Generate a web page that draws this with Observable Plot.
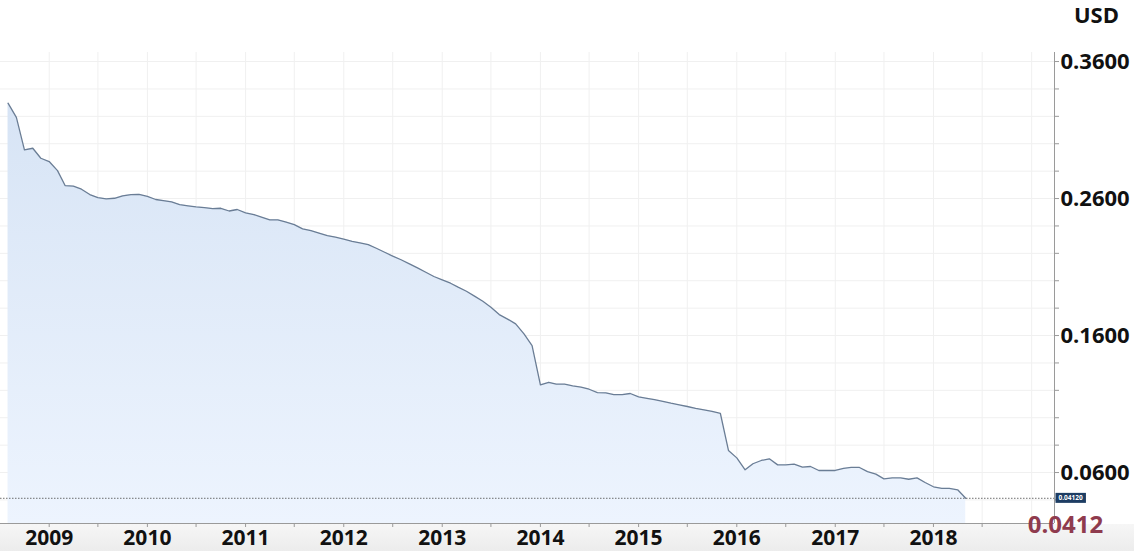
<!DOCTYPE html>
<html><head><meta charset="utf-8">
<script src="https://cdn.jsdelivr.net/npm/d3@7"></script>
<script src="https://cdn.jsdelivr.net/npm/@observablehq/plot@0.6"></script>
<style>
html,body{margin:0;padding:0;background:#fff;}
#chart svg{display:block;}
</style></head><body><div id="chart"></div>
<script>
// ---- data ----
const startMonth = "2008-08-01"; // first monthly observation
const prices = [
  0.3296,0.3193,0.2955,0.2967,0.2894,0.2870,0.2804,0.2695,0.2690,0.2668,
  0.2629,0.2607,0.2598,0.2602,0.2620,0.2629,0.2631,0.2615,0.2593,0.2585,
  0.2576,0.2556,0.2547,0.2539,0.2534,0.2527,0.2529,0.2509,0.2520,0.2496,
  0.2483,0.2465,0.2445,0.2445,0.2428,0.2410,0.2379,0.2366,0.2348,0.2330,
  0.2318,0.2303,0.2288,0.2277,0.2264,0.2237,0.2208,0.2180,0.2153,0.2123,
  0.2094,0.2062,0.2031,0.2007,0.1982,0.1953,0.1923,0.1888,0.1850,0.1807,
  0.1753,0.1720,0.1685,0.1612,0.1527,0.1240,0.1259,0.1245,0.1245,0.1233,
  0.1223,0.1208,0.1184,0.1182,0.1169,0.1169,0.1177,0.1153,0.1142,0.1133,
  0.1120,0.1106,0.1094,0.1082,0.1069,0.1058,0.1047,0.1031,0.0761,0.0707,
  0.0620,0.0664,0.0688,0.0700,0.0656,0.0656,0.0661,0.0639,0.0644,0.0615,
  0.0615,0.0615,0.0631,0.0637,0.0637,0.0607,0.0588,0.0554,0.0561,0.0561,
  0.0551,0.0561,0.0527,0.0496,0.0485,0.0485,0.0474,0.0412
];
const yLabelTicks = [0.06, 0.16, 0.26, 0.36];
const yMinorTicks = [0.04,0.06,0.08,0.10,0.12,0.14,0.16,0.18,0.20,0.22,0.24,0.26,0.28,0.30,0.32,0.34,0.36];
const yearLabels = ["2009","2010","2011","2012","2013","2014","2015","2016","2017","2018"];
const currency = "USD";
const lastValue = 0.0412;
const lastLabel = "0.0412";
const lastBoxLabel = "0.04120";

// ---- build ----
const start = new Date(startMonth + "T00:00:00Z");
const data = prices.map((v, i) => ({date: d3.utcMonth.offset(start, i), v}));
const xDomain = [new Date(Date.UTC(2008, 6, 4)), new Date(Date.UTC(2019, 2, 27))];
const yDomain = [0.0228, 0.3666];
const halfYears = d3.utcMonth.every(6).range(xDomain[0], xDomain[1]);
const yearTickDates = yearLabels.map(y => new Date(y + "-01-01T00:00:00Z"));

const defs = () => {
  const ns = "http://www.w3.org/2000/svg";
  const d = document.createElementNS(ns, "defs");
  d.innerHTML = `<linearGradient id="areaGrad" x1="0" y1="0" x2="0" y2="1">
    <stop offset="0" stop-color="#d7e4f5"/><stop offset="1" stop-color="#edf4fe"/></linearGradient>`;
  return d;
};

const chart = Plot.plot({
  width: 1134,
  height: 551,
  marginTop: 52,
  marginBottom: 28,
  marginLeft: 0,
  marginRight: 80,
  style: {
    fontFamily: "'Open Sans', sans-serif",
    background: "linear-gradient(to bottom, #ffffff 0px, #ffffff 524px, #f6f6f6 524px, #ececec 551px)",
    overflow: "visible"
  },
  x: {type: "utc", domain: xDomain},
  y: {domain: yDomain},
  marks: [
    defs,
    Plot.gridY(yMinorTicks, {stroke: "#f0f0f0", strokeOpacity: 1}),
    Plot.gridX(halfYears, {stroke: "#f0f0f0", strokeOpacity: 1}),
    Plot.areaY(data, {x: "date", y1: () => yDomain[0], y2: "v", fill: "url(#areaGrad)", fillOpacity: 1}),
    Plot.lineY(data, {x: "date", y: "v", stroke: "#6a7d95", strokeWidth: 1.3}),
    Plot.ruleY([lastValue], {stroke: "#4a4a4a", strokeWidth: 0.8, strokeDasharray: "1.5,1.5"}),
    Plot.ruleX([xDomain[1]], {stroke: "#9a9a9a", strokeWidth: 1}),
    Plot.ruleY([yDomain[0]], {stroke: "#9a9a9a", strokeWidth: 1}),
    Plot.axisY({anchor: "right", ticks: yMinorTicks, tickSize: 4, tickFormat: () => "", stroke: "#9a9a9a", label: null}),
    Plot.axisY({anchor: "right", ticks: yLabelTicks, tickSize: 0, tickPadding: 6, tickFormat: d3.format(".4f"),
      label: null, fontSize: 22, fontWeight: 700, fill: "#111"}),
    Plot.axisX({ticks: halfYears, tickSize: 4, tickFormat: () => "", stroke: "#9a9a9a", label: null}),
    Plot.axisX({ticks: yearTickDates, tickSize: 0, tickPadding: 7, tickFormat: d => String(d.getUTCFullYear()),
      label: null, fontSize: 21, fontWeight: 700, fill: "#111"}),
    Plot.text([currency], {frameAnchor: "top-right", dx: 42, dy: -37, text: d => d, textAnchor: "middle",
      lineAnchor: "middle", fontSize: 22, fontWeight: 700, fill: "#111"}),
    Plot.text([lastBoxLabel], {y: () => lastValue, frameAnchor: "right", dx: 4, text: d => d, textAnchor: "start",
      lineAnchor: "middle", fontSize: 6.5, fontWeight: 700, fill: "#ffffff", className: "last-box"}),
    Plot.text([lastLabel], {y: () => lastValue, frameAnchor: "right", dx: 11, dy: 27, text: d => d, textAnchor: "middle",
      lineAnchor: "middle", fontSize: 24, fontWeight: 700, fill: "#8f3b4e"})
  ]
});
document.getElementById("chart").appendChild(chart);

// dark badge behind the small last-value label
const t = chart.querySelector("g.last-box text");
if (t) {
  const b = t.getBBox();
  const ns = "http://www.w3.org/2000/svg";
  const r = document.createElementNS(ns, "rect");
  r.setAttribute("x", b.x - 3); r.setAttribute("y", b.y - 0.5);
  r.setAttribute("width", b.width + 6); r.setAttribute("height", b.height + 1);
  r.setAttribute("fill", "#1d3d63");
  const ctm = t.getAttribute("transform");
  if (ctm) r.setAttribute("transform", ctm);
  t.parentNode.insertBefore(r, t);
}
</script></body></html>
